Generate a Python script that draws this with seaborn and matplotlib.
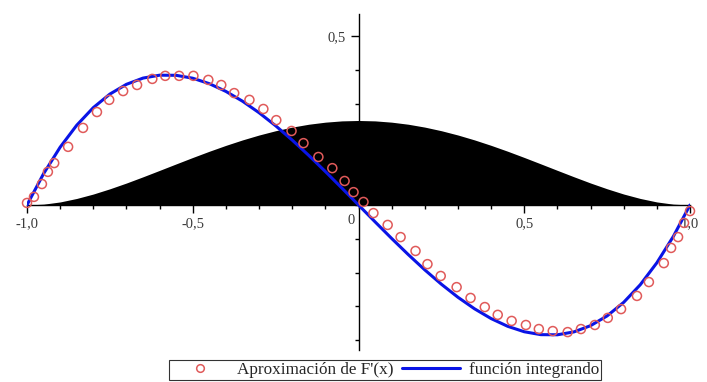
import matplotlib
matplotlib.use("Agg")
import matplotlib.pyplot as plt
import seaborn as sns
import pandas as pd
from matplotlib.ticker import FixedLocator, MultipleLocator, NullFormatter
from matplotlib.lines import Line2D

# ---- data ----
curve_x = [-1.0, -0.95, -0.9, -0.85, -0.8, -0.75, -0.7, -0.65, -0.6, -0.55, -0.5,
           -0.45, -0.4, -0.35, -0.3, -0.25, -0.2, -0.15, -0.1, -0.05, 0.0,
           0.05, 0.1, 0.15, 0.2, 0.25, 0.3, 0.35, 0.4, 0.45, 0.5,
           0.55, 0.6, 0.65, 0.7, 0.75, 0.8, 0.85, 0.9, 0.95, 1.0]
integrand_y = [0.0, 0.0926, 0.171, 0.2359, 0.288, 0.3281, 0.357, 0.3754, 0.384, 0.3836, 0.375,
               0.3589, 0.336, 0.3071, 0.273, 0.2344, 0.192, 0.1466, 0.099, 0.0499, 0.0,
               -0.0499, -0.099, -0.1466, -0.192, -0.2344, -0.273, -0.3071, -0.336, -0.3589, -0.375,
               -0.3836, -0.384, -0.3754, -0.357, -0.3281, -0.288, -0.2359, -0.171, -0.0926, 0.0]
area_y = [0.0, 0.0024, 0.0090, 0.0193, 0.0324, 0.0479, 0.0650, 0.0834, 0.1024, 0.1216, 0.1406,
          0.1590, 0.1764, 0.1925, 0.2070, 0.2197, 0.2304, 0.2389, 0.2450, 0.2488, 0.25,
          0.2488, 0.2450, 0.2389, 0.2304, 0.2197, 0.2070, 0.1925, 0.1764, 0.1590, 0.1406,
          0.1216, 0.1024, 0.0834, 0.0650, 0.0479, 0.0324, 0.0193, 0.0090, 0.0024, 0.0]

approx_x = [-1.0, -0.979, -0.955, -0.937, -0.918, -0.876, -0.831, -0.789, -0.752, -0.710,
            -0.668, -0.622, -0.583, -0.541, -0.498, -0.453, -0.414, -0.375, -0.329, -0.287,
            -0.248, -0.202, -0.166, -0.121, -0.079, -0.042, -0.015, 0.015, 0.045, 0.088,
            0.127, 0.172, 0.208, 0.248, 0.296, 0.338, 0.381, 0.420, 0.462, 0.505,
            0.544, 0.586, 0.631, 0.671, 0.713, 0.752, 0.792, 0.840, 0.876, 0.921,
            0.943, 0.964, 0.982, 1.0]
approx_y = [0.006, 0.024, 0.062, 0.098, 0.124, 0.172, 0.228, 0.275, 0.311, 0.337,
            0.355, 0.373, 0.382, 0.382, 0.382, 0.370, 0.355, 0.331, 0.311, 0.284,
            0.251, 0.219, 0.183, 0.142, 0.109, 0.071, 0.038, 0.009, -0.024, -0.059,
            -0.095, -0.136, -0.175, -0.210, -0.243, -0.275, -0.302, -0.325, -0.343, -0.355,
            -0.367, -0.373, -0.376, -0.367, -0.355, -0.334, -0.308, -0.269, -0.228, -0.172,
            -0.127, -0.095, -0.053, -0.018]

x_tick_vals = [-1.0, -0.5, 0.5, 1.0]
x_tick_labels = ["-1,0", "-0,5", "0,5", "1,0"]
y_tick_vals = [0.5]
y_tick_labels = ["0,5"]
legend_labels = ["Aproximación de F'(x)", "función integrando"]

curve_df = pd.DataFrame({"x": curve_x, "f": integrand_y, "F": area_y})
approx_df = pd.DataFrame({"x": approx_x, "y": approx_y})

sns.set_theme(style="white")
plt.rcParams["font.family"] = ["Liberation Serif", "DejaVu Serif"]

fig = plt.figure(figsize=(7.07, 3.82), dpi=100)
ax = fig.add_axes([27 / 707, 32 / 382, 663 / 707, 336 / 382])

ax.fill_between(curve_df["x"], 0, curve_df["F"], color="black", linewidth=0, zorder=1)
sns.lineplot(data=curve_df, x="x", y="f", ax=ax, color="#0a14e6", linewidth=2.2,
             zorder=3, sort=False, legend=False)
sns.scatterplot(data=approx_df, x="x", y="y", ax=ax, marker="o", s=42,
                facecolors="none", edgecolor="#e05a5a", linewidth=1.1,
                zorder=4, clip_on=False, legend=False)

ax.set_xlim(-1.0, 1.0)
ax.set_ylim(-0.429, 0.565)
ax.set_xlabel("")
ax.set_ylabel("")

for s in ["top", "right"]:
    ax.spines[s].set_visible(False)
ax.spines["left"].set_position(("data", 0))
ax.spines["bottom"].set_position(("data", 0))
for s in ["left", "bottom"]:
    ax.spines[s].set_color("black")
    ax.spines[s].set_linewidth(1.0)
    ax.spines[s].set_zorder(2)

ax.xaxis.set_major_locator(FixedLocator(x_tick_vals))
ax.set_xticklabels(x_tick_labels)
ax.xaxis.set_minor_locator(MultipleLocator(0.1))
ax.yaxis.set_major_locator(FixedLocator(y_tick_vals))
ax.set_yticklabels(y_tick_labels)
ax.yaxis.set_minor_locator(MultipleLocator(0.1))
ax.yaxis.set_minor_formatter(NullFormatter())
ax.xaxis.set_minor_formatter(NullFormatter())
ax.tick_params(axis="both", which="major", direction="out", length=6, width=1,
               color="black", labelsize=10.5, labelcolor="#3a3a3a", pad=3,
               bottom=True, left=True)
ax.tick_params(axis="both", which="minor", direction="out", length=3, width=1,
               color="black", bottom=True, left=True)
ax.text(-0.012, -0.028, "0", ha="right", va="top", fontsize=10.5, color="#3a3a3a")

handles = [
    Line2D([], [], linestyle="none", marker="o", markersize=5.5, markerfacecolor="none",
           markeredgecolor="#e05a5a", markeredgewidth=1.1),
    Line2D([], [], color="#0a14e6", linewidth=2.2),
]
leg = fig.legend(handles, legend_labels, loc="lower center", bbox_to_anchor=(385 / 707, 2 / 382),
                 ncol=2, frameon=True, fancybox=False, fontsize=12.3, handlelength=3.4,
                 columnspacing=0.5, handletextpad=0.5, borderpad=0.12, borderaxespad=0.0)
leg.get_frame().set_edgecolor("black")
leg.get_frame().set_linewidth(0.8)

fig.savefig("out.png", dpi=100)
